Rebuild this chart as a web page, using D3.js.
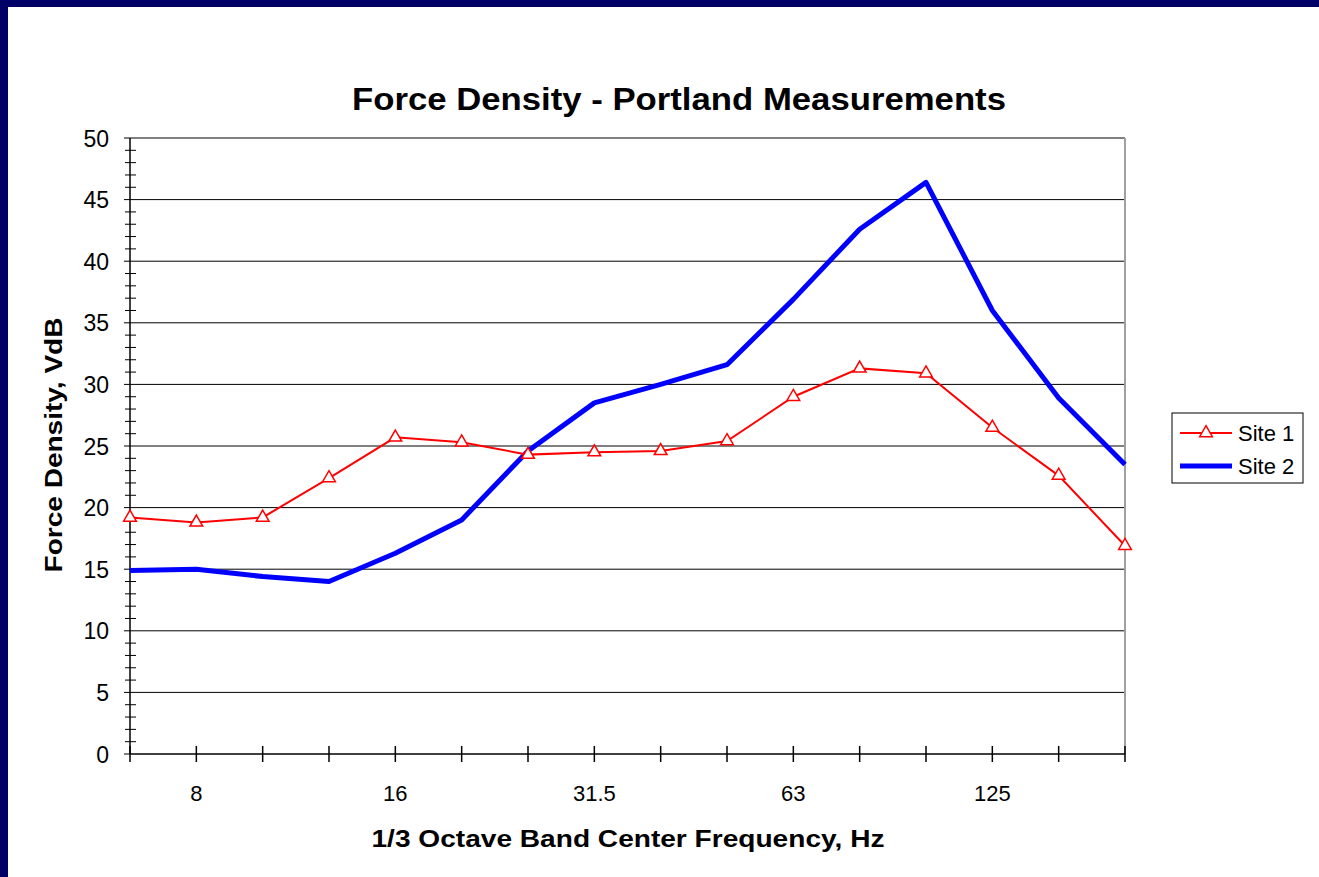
<!DOCTYPE html>
<html>
<head>
<meta charset="utf-8">
<script src="https://cdn.jsdelivr.net/npm/d3@7"></script>
<style>
  body { margin: 0; background: #000066; }
  svg { display: block; font-family: "Liberation Sans", Arial, sans-serif; }
</style>
</head>
<body>
<svg id="chart"></svg>
<script>
var width = 1319,
    height = 877;

// 1/3 octave band centre frequencies, Hz
var bands = ["6.3", "8", "10", "12.5", "16", "20", "25", "31.5", "40", "50", "63", "80", "100", "125", "160", "200"];
var shownLabels = ["8", "16", "31.5", "63", "125"];
var site1 = [19.2, 18.8, 19.2, 22.4, 25.7, 25.3, 24.3, 24.5, 24.6, 25.4, 29.0, 31.3, 30.9, 26.5, 22.6, 16.9];
var site2 = [14.9, 15.0, 14.4, 14.0, 16.3, 19.0, 24.6, 28.5, 30.0, 31.6, 36.9, 42.6, 46.4, 36.0, 28.9, 23.5];
var yTicks = [0, 5, 10, 15, 20, 25, 30, 35, 40, 45, 50];

var plot = { left: 130, right: 1125, top: 138, bottom: 754 };

var svg = d3.select("#chart")
    .attr("width", width)
    .attr("height", height);

// white page inside the navy frame
svg.append("rect")
    .attr("x", 8).attr("y", 7)
    .attr("width", width - 8).attr("height", height - 7)
    .attr("fill", "#fff");

var x = d3.scalePoint()
    .domain(bands)
    .range([plot.left, plot.right]);

var y = d3.scaleLinear()
    .domain([0, 50])
    .range([plot.bottom, plot.top]);

// gridlines
svg.append("g")
    .selectAll("line")
    .data(yTicks.slice(1))
    .join("line")
    .attr("x1", plot.left).attr("x2", plot.right)
    .attr("y1", d => y(d)).attr("y2", d => y(d))
    .attr("stroke", d => d === 50 ? "#808080" : "#000")
    .attr("stroke-width", d => d === 50 ? 2 : 1);

// right edge of plot area
svg.append("line")
    .attr("x1", plot.right).attr("x2", plot.right)
    .attr("y1", plot.top).attr("y2", plot.bottom)
    .attr("stroke", "#a0a0a0").attr("stroke-width", 2);

// y axis with minor ticks
var yAxis = svg.append("g");
yAxis.append("line")
    .attr("x1", plot.left).attr("x2", plot.left)
    .attr("y1", plot.top).attr("y2", plot.bottom)
    .attr("stroke", "#000").attr("stroke-width", 1.5);
yAxis.selectAll(".minor")
    .data(d3.range(0, 51))
    .join("line")
    .attr("class", "minor")
    .attr("x1", d => d % 5 === 0 ? 124 : 125)
    .attr("x2", d => d % 5 === 0 ? plot.left : 136)
    .attr("y1", d => y(d)).attr("y2", d => y(d))
    .attr("stroke", "#000").attr("stroke-width", 1);
yAxis.selectAll("text")
    .data(yTicks)
    .join("text")
    .attr("x", 109)
    .attr("y", d => y(d) + 8.5)
    .attr("text-anchor", "end")
    .attr("font-size", 23)
    .text(d => d);

// x axis
var xAxis = svg.append("g");
xAxis.append("line")
    .attr("x1", plot.left).attr("x2", plot.right)
    .attr("y1", plot.bottom).attr("y2", plot.bottom)
    .attr("stroke", "#000").attr("stroke-width", 1.5);
xAxis.selectAll(".tick")
    .data(bands)
    .join("line")
    .attr("class", "tick")
    .attr("x1", d => x(d)).attr("x2", d => x(d))
    .attr("y1", plot.bottom - 8).attr("y2", plot.bottom + 8)
    .attr("stroke", "#000").attr("stroke-width", 1.5);
xAxis.selectAll("text")
    .data(shownLabels)
    .join("text")
    .attr("x", d => x(d))
    .attr("y", 801)
    .attr("text-anchor", "middle")
    .attr("font-size", 22)
    .text(d => d);

// titles
svg.append("text")
    .attr("x", 679).attr("y", 110)
    .attr("text-anchor", "middle")
    .attr("font-size", 31).attr("font-weight", "bold")
    .attr("textLength", 654).attr("lengthAdjust", "spacingAndGlyphs")
    .text("Force Density - Portland Measurements");

svg.append("text")
    .attr("x", 628).attr("y", 847)
    .attr("text-anchor", "middle")
    .attr("font-size", 24).attr("font-weight", "bold")
    .attr("textLength", 513).attr("lengthAdjust", "spacingAndGlyphs")
    .text("1/3 Octave Band Center Frequency, Hz");

svg.append("text")
    .attr("transform", "translate(62, 445) rotate(-90)")
    .attr("text-anchor", "middle")
    .attr("font-size", 24).attr("font-weight", "bold")
    .attr("textLength", 255).attr("lengthAdjust", "spacingAndGlyphs")
    .text("Force Density, VdB");

// series
var line = d3.line()
    .x((d, i) => x(bands[i]))
    .y(d => y(d));

svg.append("path")
    .datum(site2)
    .attr("d", line)
    .attr("fill", "none")
    .attr("stroke", "#0000ff")
    .attr("stroke-width", 5)
    .attr("stroke-linejoin", "round");

svg.append("path")
    .datum(site1)
    .attr("d", line)
    .attr("fill", "none")
    .attr("stroke", "#ff0000")
    .attr("stroke-width", 2);

var tri = d3.symbol().type(d3.symbolTriangle).size(70);

svg.append("g")
    .selectAll("path")
    .data(site1)
    .join("path")
    .attr("transform", (d, i) => `translate(${x(bands[i])}, ${y(d)})`)
    .attr("d", tri)
    .attr("fill", "#fff")
    .attr("stroke", "#ff0000")
    .attr("stroke-width", 1.5);

// legend
var legend = svg.append("g");
legend.append("rect")
    .attr("x", 1172).attr("y", 413)
    .attr("width", 131).attr("height", 70)
    .attr("fill", "#fff")
    .attr("stroke", "#000").attr("stroke-width", 1);

legend.append("line")
    .attr("x1", 1180).attr("x2", 1232)
    .attr("y1", 433).attr("y2", 433)
    .attr("stroke", "#ff0000").attr("stroke-width", 2);
legend.append("path")
    .attr("transform", "translate(1206, 433)")
    .attr("d", tri)
    .attr("fill", "#fff")
    .attr("stroke", "#ff0000").attr("stroke-width", 1.5);
legend.append("text")
    .attr("x", 1238).attr("y", 441)
    .attr("font-size", 22)
    .text("Site 1");

legend.append("line")
    .attr("x1", 1180).attr("x2", 1232)
    .attr("y1", 466).attr("y2", 466)
    .attr("stroke", "#0000ff").attr("stroke-width", 5);
legend.append("text")
    .attr("x", 1238).attr("y", 474)
    .attr("font-size", 22)
    .text("Site 2");
</script>
</body>
</html>
